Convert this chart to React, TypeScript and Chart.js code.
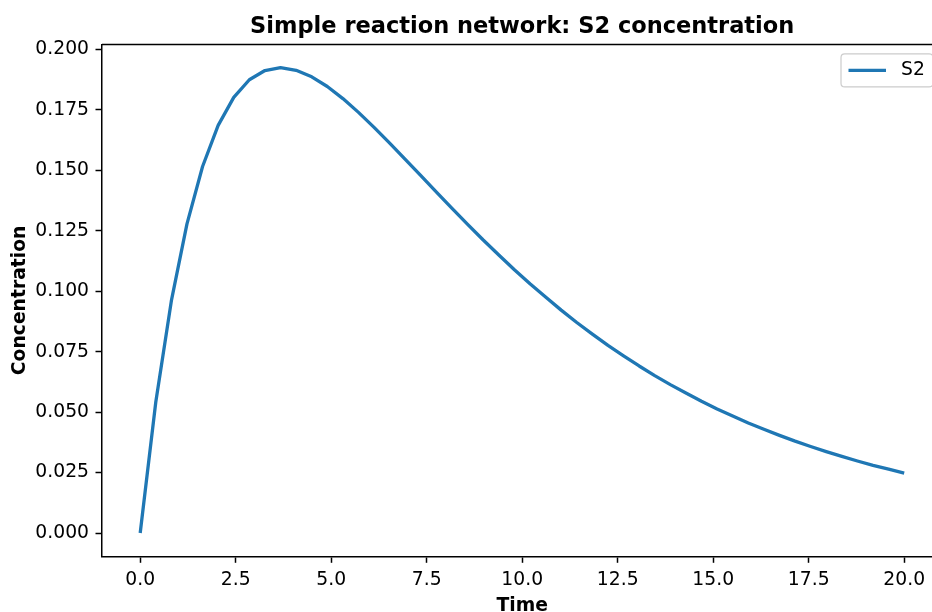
import React, { useEffect, useRef } from "react";
import { Chart, registerables } from "chart.js";

Chart.register(...registerables);

const chartTitle = "Simple reaction network: S2 concentration";
const xAxisTitle = "Time";
const yAxisTitle = "Concentration";
const seriesLabel = "S2";

const times = [
  0, 0.4082, 0.8163, 1.2245, 1.6327, 2.0408, 2.449, 2.8571, 3.2653, 3.6735,
  4.0816, 4.4898, 4.898, 5.3061, 5.7143, 6.1224, 6.5306, 6.9388, 7.3469, 7.7551,
  8.1633, 8.5714, 8.9796, 9.3878, 9.7959, 10.2041, 10.6122, 11.0204, 11.4286, 11.8367,
  12.2449, 12.6531, 13.0612, 13.4694, 13.8776, 14.2857, 14.6939, 15.102, 15.5102, 15.9184,
  16.3265, 16.7347, 17.1429, 17.551, 17.9592, 18.3673, 18.7755, 19.1837, 19.5918, 20,
];

const s2Values = [
  0, 0.0542, 0.0961, 0.1279, 0.1516, 0.1686, 0.1802, 0.1875, 0.1913, 0.1925,
  0.1914, 0.1887, 0.1847, 0.1797, 0.174, 0.1678, 0.1613, 0.1546, 0.1478, 0.141,
  0.1343, 0.1277, 0.1212, 0.115, 0.1089, 0.1031, 0.0976, 0.0922, 0.0871, 0.0823,
  0.0776, 0.0733, 0.0691, 0.0651, 0.0614, 0.0579, 0.0545, 0.0513, 0.0484, 0.0455,
  0.0429, 0.0404, 0.038, 0.0358, 0.0337, 0.0317, 0.0298, 0.028, 0.0264, 0.0248,
];

const xTickValues = [0, 2.5, 5, 7.5, 10, 12.5, 15, 17.5, 20];
const yTickValues = [0, 0.025, 0.05, 0.075, 0.1, 0.125, 0.15, 0.175, 0.2];

// axis limits (matplotlib-style 5% margins; right side of the axes is cut by the canvas edge)
const X_MIN = -1;
const X_MAX = 20.7277;
const X_CENTER = 10;
const Y_MIN = -0.0096225;
const Y_MAX = 0.2020725;

const FONT = "'DejaVu Sans', sans-serif";
const LINE_COLOR = "#1f77b4";

const framePlugin = {
  id: "mplFrame",
  afterDraw(chart: any) {
    const { ctx, chartArea } = chart;
    const xs = chart.scales.x;
    const cx = xs.getPixelForValue(X_CENTER);
    ctx.save();
    // top spine
    ctx.strokeStyle = "#000";
    ctx.lineWidth = 1.5;
    ctx.beginPath();
    ctx.moveTo(chartArea.left, chartArea.top);
    ctx.lineTo(chartArea.right, chartArea.top);
    ctx.stroke();

    // title (centered on axes)
    ctx.fillStyle = "#000";
    ctx.textAlign = "center";
    ctx.textBaseline = "alphabetic";
    ctx.font = `bold 22.5px ${FONT}`;
    ctx.fillText(chartTitle, cx, chartArea.top - 12);

    // x axis title
    ctx.font = `bold 18.75px ${FONT}`;
    ctx.fillText(xAxisTitle, cx, chart.height - 1.5);

    // legend (matplotlib-style, upper right inside axes)
    const ds = chart.data.datasets[0];
    const w = 92;
    const h = 33;
    const right = chartArea.right + 1;
    const left = right - w;
    const top = chartArea.top + 9.4;
    const r = 3.75;
    ctx.beginPath();
    ctx.moveTo(left + r, top);
    ctx.lineTo(right - r, top);
    ctx.quadraticCurveTo(right, top, right, top + r);
    ctx.lineTo(right, top + h - r);
    ctx.quadraticCurveTo(right, top + h, right - r, top + h);
    ctx.lineTo(left + r, top + h);
    ctx.quadraticCurveTo(left, top + h, left, top + h - r);
    ctx.lineTo(left, top + r);
    ctx.quadraticCurveTo(left, top, left + r, top);
    ctx.closePath();
    ctx.fillStyle = "rgba(255,255,255,0.8)";
    ctx.fill();
    ctx.strokeStyle = "#cccccc";
    ctx.lineWidth = 1.2;
    ctx.stroke();

    const cy = top + h / 2;
    ctx.strokeStyle = ds.borderColor;
    ctx.lineWidth = ds.borderWidth;
    ctx.beginPath();
    ctx.moveTo(left + 7.5, cy);
    ctx.lineTo(left + 45, cy);
    ctx.stroke();

    ctx.fillStyle = "#000";
    ctx.font = `18.75px ${FONT}`;
    ctx.textBaseline = "middle";
    ctx.textAlign = "left";
    ctx.fillText(ds.label, left + 60, cy);
    ctx.restore();
  },
};

export default function App() {
  const canvasRef = useRef<HTMLCanvasElement | null>(null);

  useEffect(() => {
    if (!canvasRef.current) return;
    const chart = new Chart(canvasRef.current, {
      type: "line",
      data: {
        datasets: [
          {
            label: seriesLabel,
            data: times.map((t, i) => ({ x: t, y: s2Values[i] })),
            borderColor: LINE_COLOR,
            backgroundColor: LINE_COLOR,
            borderWidth: 3.3,
            pointRadius: 0,
            tension: 0,
            fill: false,
            borderJoinStyle: "round",
            borderCapStyle: "butt",
          },
        ],
      },
      options: {
        responsive: false,
        devicePixelRatio: 1,
        animation: false,
        layout: { padding: { left: 0, right: 0, top: 44.5, bottom: 0 } },
        plugins: {
          legend: { display: false },
          tooltip: { enabled: false },
          title: { display: false },
        },
        scales: {
          x: {
            type: "linear",
            min: X_MIN,
            max: X_MAX,
            afterBuildTicks: (s: any) => {
              s.ticks = xTickValues.map((v) => ({ value: v }));
            },
            afterFit: (s: any) => {
              s.height = 55.7;
              s.paddingLeft = 0;
              s.paddingRight = 0;
            },
            border: { display: true, color: "#000", width: 1.5 },
            grid: {
              display: true,
              drawOnChartArea: false,
              drawTicks: true,
              tickLength: 6.5,
              tickColor: "#000",
              tickWidth: 1.5,
            },
            ticks: {
              color: "#000",
              font: { family: FONT, size: 18.75 },
              padding: 6.5,
              maxRotation: 0,
              autoSkip: false,
              callback: (v: any) => Number(v).toFixed(1),
            },
            title: { display: false, text: xAxisTitle },
          },
          y: {
            type: "linear",
            min: Y_MIN,
            max: Y_MAX,
            afterBuildTicks: (s: any) => {
              s.ticks = yTickValues.map((v) => ({ value: v }));
            },
            afterFit: (s: any) => {
              s.width = 102;
              s.paddingTop = 0;
              s.paddingBottom = 0;
            },
            border: { display: true, color: "#000", width: 1.5 },
            grid: {
              display: true,
              drawOnChartArea: false,
              drawTicks: true,
              tickLength: 6.5,
              tickColor: "#000",
              tickWidth: 1.5,
            },
            ticks: {
              color: "#000",
              font: { family: FONT, size: 18.75 },
              padding: 6.5,
              autoSkip: false,
              callback: (v: any) => Number(v).toFixed(3),
            },
            title: {
              display: true,
              text: yAxisTitle,
              color: "#000",
              font: { family: FONT, size: 18.75, weight: "bold" },
              padding: { top: 9, bottom: 0 },
            },
          },
        },
      },
      plugins: [framePlugin],
    });
    return () => chart.destroy();
  }, []);

  return (
    <div style={{ position: "absolute", left: 0, top: 0, width: 932, height: 612, background: "#fff" }}>
      <canvas ref={canvasRef} width={932} height={612} style={{ display: "block" }} />
    </div>
  );
}
